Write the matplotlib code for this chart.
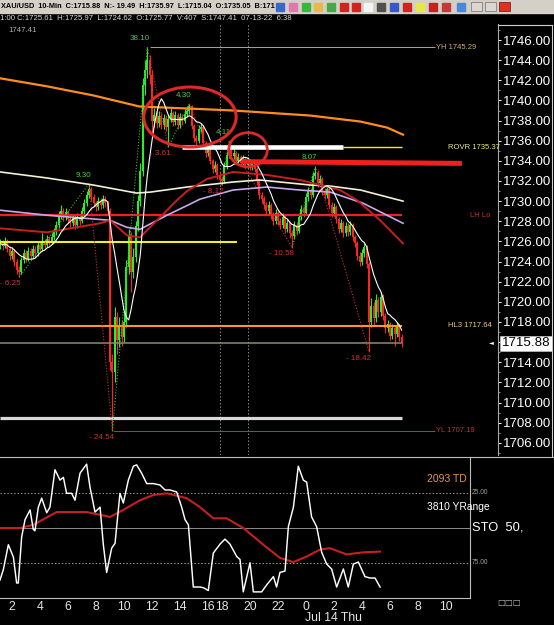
import matplotlib
matplotlib.use('Agg')
import matplotlib.pyplot as plt
import numpy as np
import pandas as pd
from matplotlib.patches import Ellipse, Rectangle
from matplotlib.ticker import MultipleLocator

plt.rcParams['font.family'] = ['Liberation Sans', 'DejaVu Sans']

# ---------------- data ----------------
# x positions are "session hours" on Jul 13 (17:00-18:00 break removed); 10-min bars
bar_h0 = 7 / 6          # first visible bar 01:10
bar_step = 1 / 6
open0 = 1725.6
close = [1725.8, 1725.5, 1726.0, 1725.2, 1724.6, 1725.0, 1724.0, 1723.2, 1723.0, 1724.2,
         1724.8, 1724.3, 1725.0, 1724.6, 1725.2, 1724.8, 1725.6, 1725.2, 1725.9, 1725.6,
         1726.2, 1725.9, 1726.4, 1726.9, 1727.6, 1728.6, 1729.0, 1728.4, 1728.9, 1728.2,
         1727.8, 1728.3, 1727.6, 1728.4, 1728.0, 1729.0, 1729.8, 1730.6, 1731.2, 1730.4,
         1729.8, 1729.4, 1730.0, 1729.6, 1730.2, 1729.8, 1729.0, 1714.0, 1713.0, 1718.5,
         1716.2, 1717.6, 1716.5, 1718.0, 1723.5, 1726.5, 1723.0, 1724.5, 1727.5, 1730.0,
         1733.0, 1741.5, 1743.0, 1744.0, 1742.5, 1738.0, 1738.6, 1737.8, 1738.5, 1737.6,
         1738.3, 1737.4, 1738.2, 1738.8, 1737.9, 1738.6, 1737.6, 1738.4, 1738.0, 1738.7,
         1739.0, 1739.4, 1737.5, 1736.3, 1736.0, 1737.2, 1737.4, 1735.8, 1734.8, 1735.2,
         1734.0, 1733.2, 1733.6, 1732.6, 1732.2, 1732.0, 1733.5, 1734.6, 1735.2, 1734.5,
         1734.8, 1734.0, 1734.4, 1733.8, 1734.2, 1733.6, 1734.0, 1733.4, 1733.8, 1733.2,
         1732.0, 1730.6, 1730.2, 1729.6, 1729.0, 1729.6, 1728.6, 1728.0, 1728.8, 1728.0,
         1727.6, 1728.4, 1727.2, 1727.8, 1726.8, 1726.5, 1727.6, 1727.0, 1728.4, 1729.2,
         1728.8, 1730.4, 1731.0, 1730.6, 1732.5, 1732.8, 1731.8, 1732.2, 1731.0, 1730.6,
         1731.2, 1729.6, 1728.8, 1729.4, 1728.2, 1727.2, 1727.8, 1726.8, 1727.5, 1726.9,
         1727.6, 1726.4, 1725.8, 1724.6, 1724.0, 1724.8, 1725.4, 1723.8, 1718.0, 1719.6,
         1718.4, 1720.2, 1719.0, 1720.5, 1718.6, 1717.4, 1717.8, 1716.6, 1717.4, 1716.8,
         1717.6, 1716.5, 1715.88]
high = [1726.2, 1726.1, 1726.4, 1726.2, 1725.5, 1725.4, 1725.2, 1724.3, 1723.6, 1724.5,
        1725.2, 1725.1, 1725.4, 1725.3, 1725.6, 1725.5, 1726.0, 1725.9, 1726.8, 1726.2,
        1726.6, 1726.5, 1726.8, 1727.3, 1728.0, 1729.0, 1729.6, 1729.3, 1729.3, 1729.1,
        1728.5, 1728.7, 1728.6, 1728.8, 1728.7, 1729.4, 1730.2, 1731.0, 1731.73, 1731.4,
        1730.7, 1730.0, 1730.4, 1730.3, 1730.6, 1730.5, 1730.0, 1729.3, 1714.8, 1719.5,
        1719.0, 1718.5, 1718.2, 1719.0, 1724.2, 1727.2, 1726.9, 1725.3, 1728.0, 1730.6,
        1733.8, 1742.2, 1744.0, 1745.29, 1744.5, 1743.0, 1739.2, 1739.0, 1739.0, 1738.8,
        1738.7, 1738.6, 1738.6, 1739.2, 1739.0, 1739.0, 1738.8, 1738.8, 1738.7, 1739.1,
        1739.4, 1739.69, 1739.5, 1737.7, 1736.6, 1737.6, 1737.8, 1737.6, 1736.0, 1735.6,
        1735.4, 1734.2, 1734.0, 1733.8, 1732.9, 1732.5, 1733.9, 1735.0, 1735.97, 1735.5,
        1735.2, 1735.0, 1734.8, 1734.6, 1734.6, 1734.4, 1734.4, 1734.2, 1734.1, 1734.0,
        1733.4, 1732.2, 1730.9, 1730.5, 1729.9, 1730.0, 1729.8, 1728.9, 1729.2, 1729.0,
        1728.3, 1728.8, 1728.6, 1728.2, 1728.0, 1727.1, 1728.0, 1727.9, 1728.8, 1729.6,
        1729.5, 1730.8, 1731.4, 1731.3, 1732.9, 1733.46, 1733.1, 1732.6, 1732.4, 1731.3,
        1731.6, 1731.4, 1729.9, 1729.8, 1729.6, 1728.4, 1728.2, 1728.0, 1727.9, 1727.8,
        1728.0, 1727.8, 1726.6, 1726.0, 1724.9, 1725.2, 1725.8, 1725.6, 1724.0, 1720.4,
        1720.0, 1720.8, 1720.5, 1721.0, 1720.8, 1718.9, 1718.2, 1718.0, 1717.8, 1717.7,
        1718.0, 1717.8, 1716.8]
low = [1725.2, 1725.1, 1725.3, 1724.9, 1724.2, 1724.3, 1723.6, 1722.8, 1722.43, 1722.8,
       1723.9, 1724.0, 1724.1, 1724.3, 1724.4, 1724.5, 1724.6, 1724.9, 1725.0, 1725.3,
       1725.4, 1725.6, 1725.7, 1726.1, 1726.6, 1727.3, 1728.2, 1728.0, 1728.1, 1727.8,
       1727.3, 1727.5, 1727.2, 1727.3, 1727.6, 1727.8, 1728.7, 1729.5, 1730.3, 1730.0,
       1729.4, 1729.0, 1729.1, 1729.2, 1729.3, 1729.4, 1728.6, 1713.2, 1707.19, 1712.0,
       1714.8, 1715.5, 1715.6, 1716.0, 1717.5, 1722.8, 1721.0, 1722.4, 1724.0, 1727.0,
       1729.5, 1732.5, 1740.5, 1742.2, 1741.6, 1736.4, 1737.4, 1737.3, 1737.4, 1737.2,
       1737.2, 1737.0, 1735.39, 1737.9, 1737.5, 1737.6, 1737.2, 1737.3, 1737.6, 1737.8,
       1738.4, 1738.7, 1737.2, 1735.9, 1735.6, 1735.8, 1736.9, 1735.5, 1734.4, 1734.5,
       1733.7, 1732.8, 1732.9, 1732.2, 1731.8, 1731.57, 1731.8, 1733.2, 1734.3, 1734.2,
       1734.2, 1733.7, 1733.7, 1733.5, 1733.5, 1733.3, 1733.3, 1733.1, 1733.1, 1732.9,
       1731.6, 1730.2, 1729.8, 1729.2, 1728.6, 1728.7, 1728.2, 1727.6, 1727.7, 1727.6,
       1727.2, 1727.3, 1726.8, 1726.9, 1726.3, 1725.39, 1726.2, 1726.6, 1726.8, 1728.1,
       1728.4, 1728.6, 1730.0, 1730.2, 1730.4, 1732.2, 1731.4, 1731.5, 1730.6, 1730.2,
       1730.3, 1729.2, 1728.4, 1728.5, 1727.8, 1726.8, 1726.9, 1726.4, 1726.5, 1726.5,
       1726.6, 1726.0, 1725.4, 1724.2, 1723.6, 1723.7, 1724.5, 1723.4, 1715.04, 1717.5,
       1717.6, 1718.0, 1718.5, 1718.6, 1718.2, 1716.9, 1717.0, 1716.2, 1716.3, 1715.6,
       1716.5, 1716.1, 1715.5]

# swing points (bar index, kind, label)
swing_idx = [8, 38, 48, 63, 72, 81, 95, 98, 125, 135, 158]
swing_kind = ['L', 'H', 'L', 'H', 'L', 'H', 'L', 'H', 'L', 'H', 'L']
swing_lab = ['- 6.25', '9.30', '- 24.54', '38.10', '- 3.61', '4.30', '- 8.12', '4.11',
             '- 10.58', '8.07', '- 18.42']

# moving averages (session hour, price)
orange_h = [1.14, 4.5, 7.8, 11.1, 14.5, 17.8, 21.1, 23.3, 26.9, 28.8, 29.93]
orange_p = [1742.2, 1741.4, 1740.5, 1739.4, 1739.2, 1739.0, 1738.7, 1738.5, 1737.9, 1737.3, 1736.6]
cream_h = [1.14, 4.5, 7.8, 10.9, 11.9, 14.5, 17.8, 19.7, 23.3, 24.7, 26.9, 29.93]
cream_p = [1732.9, 1732.3, 1731.6, 1730.8, 1730.9, 1731.4, 1731.9, 1732.1, 1731.6, 1731.5, 1731.1, 1730.0]
lav_h = [1.14, 4.5, 9.0, 10.2, 11.14, 13.07, 14.71, 15.43, 17.79, 20.21, 22.57, 24.71, 27.07, 29.93]
lav_p = [1729.1, 1728.6, 1728.1, 1727.4, 1727.2, 1728.6, 1729.7, 1730.2, 1731.1, 1731.4, 1731.1, 1730.9, 1729.8, 1727.8]
dred_h = [1.14, 4.5, 8.29, 9.0, 10.21, 11.14, 12.36, 13.79, 14.5, 15.93, 17.79, 20.21, 22.57,
          25.43, 26.64, 28.29, 29.93]
dred_p = [1727.3, 1726.9, 1727.8, 1728.1, 1726.6, 1726.4, 1728.1, 1730.1, 1731.0, 1732.2, 1732.9,
          1732.6, 1732.1, 1731.1, 1730.1, 1728.1, 1725.8]

# price levels
lvl_lh_lo = 1728.62
lvl_rovr = 1735.37
lvl_hl3 = 1717.64
lvl_last = 1715.88
lvl_yh = 1745.29
lvl_yl = 1707.19
lvl_yellow = 1725.94
lvl_white = 1708.46
lvl_redbar = 1733.8
session_marks_h = [16.86, 18.86]

# stochastic panel (axis: 0 top, 100 bottom)
sto_h = [1.14, 1.38, 1.74, 2.10, 2.33, 2.45, 2.69, 2.93, 3.29, 3.52,
         3.64, 3.88, 4.12, 4.48, 4.71, 5.07, 5.43, 5.67, 5.90, 6.26,
         6.50, 6.86, 7.33, 7.57, 7.93, 8.29, 8.52, 8.76, 9.12, 9.36,
         9.71, 9.95, 10.31, 10.67, 10.90, 11.26, 11.62, 12.10, 12.57, 12.93,
         13.29, 13.76, 14.12, 14.36, 14.60, 14.95, 15.19, 15.43, 15.67, 16.02,
         16.38, 16.86, 17.21, 17.57, 18.05, 18.29, 18.52, 19.00, 19.24, 19.48,
         19.83, 20.19, 20.67, 20.90, 21.14, 21.50, 21.74, 22.10, 22.45, 22.81,
         23.05, 23.40, 23.76, 24.12, 24.48, 24.83, 25.19, 25.67, 26.02, 26.38,
         26.74, 27.21, 27.57, 27.93, 28.29]
sto_v = [87.5, 80, 62, 71, 89.6, 89.6, 56.5, 44, 37, 51,
         52, 35, 28.5, 39, 35, 8, 15.5, 13.5, 25, 25,
         30, 10.5, 4, 20.5, 38.5, 35, 61.6, 82, 64.5, 61,
         25, 32, 15.5, 5.5, 4.5, 10.5, 18, 18, 19, 22.6,
         22.6, 24, 35, 44, 47.7, 92.5, 92.5, 92.5, 93, 95,
         68, 61.6, 58, 61.6, 70.5, 72.7, 96, 75, 96, 96,
         96, 91, 85, 92.5, 82, 81, 49, 35, 5.5, 15.5,
         17, 42, 49, 67.5, 76, 79.5, 92.5, 79.5, 92.5, 76,
         74.5, 85, 86, 86, 92.5]
sig_h = [1.14, 2.57, 3.52, 5.19, 7.33, 9.0, 9.95, 11.14, 12.10, 13.05, 14.48, 15.43,
         16.38, 17.33, 18.52, 19.95, 21.14, 22.10, 23.05, 24.0, 24.71, 25.90, 27.09, 28.29]
sig_v = [50, 50, 47.7, 38.5, 38.5, 42, 37, 30, 26.2, 25, 28.5, 35,
         43, 43, 50, 62, 71.5, 74.5, 70.5, 65.5, 64.5, 69, 67.5, 67]

xtick_h = [2, 4, 6, 8, 10, 12, 14, 16, 17, 19, 21, 23, 25, 27, 29, 31, 33]
xtick_lab = ['2', '4', '6', '8', '10', '12', '14', '16', '18', '20', '22', '0', '2', '4', '6', '8', '10']

# ---------------- figure ----------------
W, H = 554, 625
fig = plt.figure(figsize=(W / 100, H / 100), dpi=100, facecolor='black')


def rect(x0, y0, x1, y1):
    return [x0 / W, 1 - y1 / H, (x1 - x0) / W, (y1 - y0) / H]


ax = fig.add_axes(rect(0, 24, 498, 455), facecolor='black')
ax2 = fig.add_axes(rect(0, 457, 470, 598), facecolor='black')
ov = fig.add_axes([0, 0, 1, 1], facecolor='none')
ov.set_xlim(0, W)
ov.set_ylim(H, 0)
ov.axis('off')
ov.set_zorder(5)

ax.set_xlim(2 - 12 / 14, 2 + 486 / 14)
ax.set_ylim(1704.79, 1747.59)
ax2.set_xlim(2 - 12 / 14, 2 + 458 / 14)
ax2.set_ylim(100.4, -1.15)

c = np.array(close)
hi = np.array(high)
lo = np.array(low)
o = np.r_[open0, c[:-1]]
n = len(c)
hx = bar_h0 + np.arange(n) * bar_step
h_end = hx[-1]
up = c >= o
col = np.where(up, '#28f028', '#ff2424')
x_left = ax.get_xlim()[0]

# horizontal levels
ax.hlines(lvl_lh_lo, x_left, h_end, color='#f02020', lw=1.6, zorder=4)
ax.hlines(lvl_yellow, x_left, 18.1, color='#f0f020', lw=1.5, zorder=4)
ax.hlines(lvl_hl3, x_left, h_end, color='#ff9428', lw=1.5, zorder=4)
ax.hlines(lvl_last, x_left, h_end, color='#8c8c68', lw=1.1, zorder=4)
ax.hlines(lvl_white, x_left, h_end, color='#d8d8d8', lw=2.3, zorder=4)
ax.hlines(lvl_yh, 11.86, 32.2, color='#c8a060', lw=0.7, zorder=4)
ax.hlines(lvl_yl, 9.21, 32.2, color='#c83030', lw=0.7, zorder=4)
ax.hlines(lvl_rovr, 14.14, 25.64, color='white', lw=3.3, zorder=6)
ax.hlines(lvl_rovr, 25.64, h_end, color='#f0f020', lw=1.0, zorder=4)
ax.plot([18.43, 34.14], [lvl_redbar + 0.12, lvl_redbar - 0.05], color='#f02020', lw=3.6,
        solid_capstyle='butt', zorder=6)
for sh in session_marks_h:
    ax.axvline(sh, color='#8a8a8a', lw=0.7, ls=(0, (1.5, 2)), zorder=1)

# candles
ax.vlines(hx, lo, hi, colors=col, lw=0.8, zorder=3)
ax.bar(hx, np.maximum(np.abs(c - o), 0.15), bottom=np.minimum(o, c), width=0.145,
       color=col, linewidth=0, zorder=3)

# moving averages
ax.plot(orange_h, orange_p, color='#ff8c1e', lw=1.6, zorder=5)
ax.plot(cream_h, cream_p, color='#f4f0d4', lw=1.2, zorder=5)
ax.plot(lav_h, lav_p, color='#c8a8e8', lw=1.2, zorder=5)
ax.plot(dred_h, dred_p, color='#c81e1e', lw=1.4, zorder=5)
fast = pd.Series(c).rolling(9, min_periods=1).mean()
ax.plot(hx, fast, color='white', lw=0.8, zorder=5)

# zigzag and swing labels
for k in range(len(swing_idx) - 1):
    i0, i1 = swing_idx[k], swing_idx[k + 1]
    p0 = hi[i0] if swing_kind[k] == 'H' else lo[i0]
    p1 = hi[i1] if swing_kind[k + 1] == 'H' else lo[i1]
    zc = '#30c030' if p1 > p0 else '#d03030'
    ax.plot([hx[i0], hx[i1]], [p0, p1], color=zc, lw=0.8, ls=(0, (1, 1.6)), zorder=4)
for i, kind, lab in zip(swing_idx, swing_kind, swing_lab):
    if kind == 'H':
        ax.annotate(lab, (hx[i], hi[i]), xytext=(1.5, 6), textcoords='offset points',
                    ha='right', va='center', color='#40d040', fontsize=5.8, zorder=7)
    else:
        ax.annotate(lab, (hx[i], lo[i]), xytext=(1.5, -4.5), textcoords='offset points',
                    ha='right', va='center', color='#d83030', fontsize=5.8, zorder=7)

# level labels
ax.text(32.3, lvl_yh, f'YH {lvl_yh:.2f}', color='#d0b070', fontsize=5.5, va='center', zorder=7)
ax.text(32.3, lvl_yl, f'YL {lvl_yl:.2f}', color='#c83030', fontsize=5.5, va='center', zorder=7)
ax.text(33.14, lvl_rovr, f'ROVR {lvl_rovr:.2f}', color='#e8e890', fontsize=5.5, va='center', zorder=7)
ax.text(33.14, lvl_hl3, f'HL3 {lvl_hl3:.2f}', color='#e8c888', fontsize=5.5, va='center', zorder=7)
ax.text(34.71, lvl_lh_lo, 'LH Lo', color='#c83030', fontsize=5.5, va='center', zorder=7)

# annotation ellipses
ax.add_patch(Ellipse((14.71, 1738.35), 6.6, 5.96, fill=False, ec='#e02828', lw=2.2, zorder=8))
ax.add_patch(Ellipse((18.86, 1735.1), 2.75, 3.4, fill=False, ec='#e02828', lw=2.0, zorder=8))

# price axis
for s in ['top', 'left', 'bottom']:
    ax.spines[s].set_visible(False)
ax.spines['right'].set_color('#a8a8a8')
ax.spines['right'].set_linewidth(0.8)
ax.yaxis.tick_right()
yt = np.arange(1706, 1747, 2)
ax.set_yticks(yt)
ax.set_yticklabels([f'{v:.2f}' for v in yt])
ax.yaxis.set_minor_locator(MultipleLocator(1))
ax.tick_params(axis='y', which='major', colors='white', length=2.5, width=0.7, labelsize=9.6, pad=1)
ax.tick_params(axis='y', which='minor', colors='#c0c0c0', length=1.5, width=0.5)
ax.tick_params(axis='x', bottom=False, labelbottom=False)

# stochastic panel
ax2.axhline(50, color='#8c8c8c', lw=0.7)
ax2.axhline(25, color='#9a9a9a', lw=0.7, ls=(0, (1.5, 2)))
ax2.axhline(75, color='#9a9a9a', lw=0.7, ls=(0, (1.5, 2)))
ax2.plot(sig_h, sig_v, color='#c81e1e', lw=1.5, zorder=3)
ax2.plot(sto_h, sto_v, color='white', lw=1.05, zorder=4)
ax2.spines['left'].set_visible(False)
for s in ['top', 'bottom', 'right']:
    ax2.spines[s].set_color('#bdbdbd')
    ax2.spines[s].set_linewidth(0.8)
ax2.set_yticks([])
ax2.set_xticks(xtick_h)
ax2.set_xticklabels(xtick_lab)
ax2.tick_params(axis='x', length=0, colors='#e4e4e4', labelsize=8.8, pad=2.5)

# ---------------- overlay: header, boxes, panel texts ----------------
ov.add_patch(Rectangle((0, 0), W, 13, color='#d4d0c8', zorder=1))
ov.text(1, 6.8, f'XAU/USD  10-Min  C:{close[-1]:.2f}  N:- 19.49  H:1735.97  L:1715.04  O:1735.05  B:171',
        color='black', fontsize=5.3, fontweight='bold', va='center', ha='left', zorder=2)
icons = [(280, '#3a68c8'), (293, '#e078b0'), (306, '#38b838'), (318, '#e8b848'), (331, '#48a848'),
         (344, '#d82020'), (356, '#d82020'), (368, '#f4f4f4'), (381, '#505050'), (394, '#3858c8'),
         (407, '#d82020'), (420, '#e8e840'), (433, '#c82020'), (446, '#c83838'), (461, '#4888d8')]
for ix, icol in icons:
    ov.add_patch(Rectangle((ix - 4, 2.5), 8, 8, color=icol, zorder=2))
for ix in [476, 490]:
    ov.add_patch(Rectangle((ix - 5, 2), 11, 9, fc='#dcd8d0', ec='#808080', lw=0.6, zorder=2))
ov.add_patch(Rectangle((499, 2), 11, 9, fc='#e03020', ec='#802020', lw=0.6, zorder=2))

ov.text(0, 18.5, '1:00 C:1725.61  H:1725.97  L:1724.62  O:1725.77  V:407  S:1747.41  07-13-22  6:38',
        color='#d8d8d8', fontsize=5.6, va='center', ha='left')
ov.text(8, 30, '1747.41', color='#b0b0b0', fontsize=5.6, va='center', ha='left')

# price scale frame
ov.plot([498, 552], [25, 25], color='#d0d0d0', lw=0.8)
ov.plot([552, 552], [25, 457], color='#d0d0d0', lw=0.8)
ov.plot([470, 554], [457, 457], color='#bdbdbd', lw=0.8)

# current price box
ov.add_patch(Rectangle((500, 336), 52, 15, fc='white', ec='#c0c0c0', lw=0.5, zorder=3))
ov.text(526, 343.5, f'{lvl_last:.2f}', color='black', fontsize=9.6, ha='center', va='center', zorder=4)
ov.text(491, 343, '◄', color='white', fontsize=4.5, ha='center', va='center',
        family=['DejaVu Sans'])

# stochastic texts
ov.text(472, 493, '25.00', color='#a0a0a0', fontsize=4.8, va='center')
ov.text(472, 563, '75.00', color='#a0a0a0', fontsize=4.8, va='center')
ov.text(427, 479, '2093 TD', color='#e89848', fontsize=7.5, va='center')
ov.text(427, 507, '3810 YRange', color='white', fontsize=7.4, va='center')
ov.text(472, 528, 'STO  50,', color='white', fontsize=9.3, va='center')
ov.text(305, 618, 'Jul 14 Thu', color='#e4e4e4', fontsize=8.8, va='center', ha='left')
ov.text(497, 603, '□□□', color='#b8b8b8', fontsize=6, va='center', ha='left',
        family=['DejaVu Sans'])

fig.savefig('out.png', dpi=100, facecolor='black')
